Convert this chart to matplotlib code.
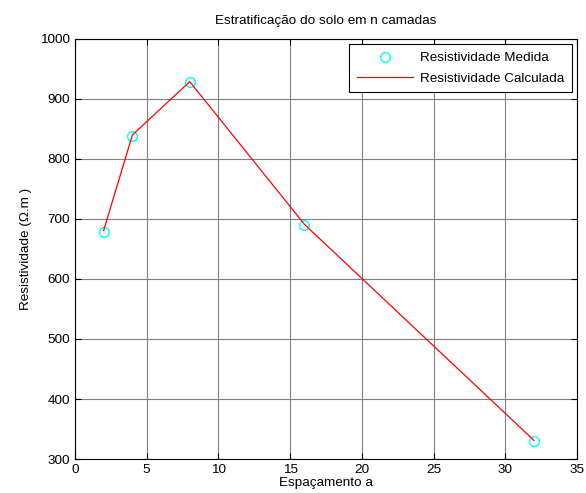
import matplotlib
matplotlib.use("Agg")
import matplotlib.pyplot as plt

plt.rcParams['font.family'] = ['Liberation Sans', 'DejaVu Sans']

# dados
espacamento = [2, 4, 8, 16, 32]
rho_medida = [679, 838, 929, 690, 330]
rho_calculada = [681, 840, 929, 691, 331]

fig = plt.figure(figsize=(5.86, 4.93), dpi=100)
ax = fig.add_axes([75 / 586, 1 - 459 / 493, (577 - 75) / 586, (459 - 39) / 493])

ax.plot(espacamento, rho_medida, 'o', mfc='none', mec='cyan', ms=7, mew=1,
        label='Resistividade Medida')
ax.plot(espacamento, rho_calculada, '-', color='red', lw=0.9,
        label='Resistividade Calculada')

ax.set_xlim(0, 35)
ax.set_ylim(300, 1000)
ax.set_xticks(range(0, 36, 5))
ax.set_yticks(range(300, 1001, 100))
ax.grid(True, color='#808080', lw=0.8)
ax.tick_params(direction='in', top=True, right=True, labelsize=9.7, length=4)
for s in ax.spines.values():
    s.set_linewidth(0.8)

ax.set_title('Estratificação do solo em n camadas', fontsize=9.7, pad=11)
ax.set_xlabel('Espaçamento a', fontsize=9.7, labelpad=1)
ax.set_ylabel('Resistividade (\u03a9.m )', fontsize=9.7, labelpad=6)

leg = ax.legend(loc='upper right', fontsize=9.7, fancybox=False, framealpha=1,
                edgecolor='black', borderaxespad=0.4, handlelength=4.2,
                handletextpad=0.5, borderpad=0.55, labelspacing=0.6)
leg.get_frame().set_linewidth(0.8)

fig.savefig('out.png', dpi=100)
